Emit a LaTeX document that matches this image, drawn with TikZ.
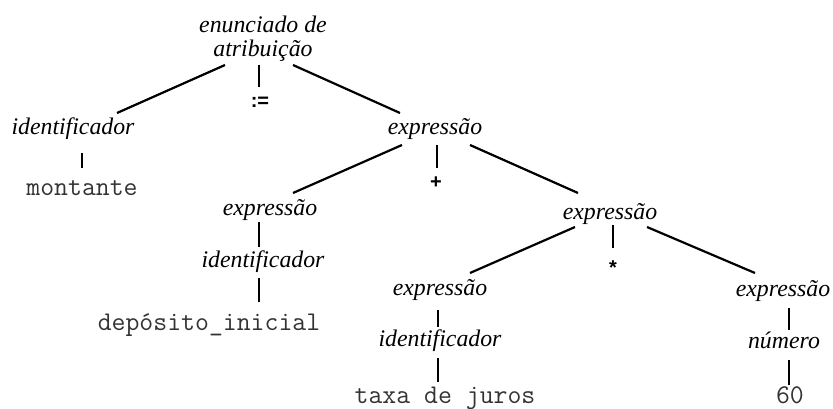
\documentclass[tikz,border=0pt]{standalone}
\usepackage{fontspec}
\setmainfont{Liberation Serif}
\newfontfamily\sansf{Liberation Sans}
\begin{document}
\begin{tikzpicture}[x=1pt,y=1pt,
  nt/.style={inner sep=0pt, anchor=base, font=\fontsize{23.8pt}{24pt}\selectfont\itshape},
  tm/.style={inner sep=0pt, anchor=base, text=black!80, font=\fontsize{27pt}{28pt}\selectfont\ttfamily},
  op/.style={inner sep=0pt, anchor=base, font=\fontsize{20pt}{24pt}\selectfont\sansf\bfseries},
  edge/.style={line width=2.2pt}]
\useasboundingbox (0,0) rectangle (833,-409);
% nodes
\node[nt, align=center] (root) at (263,-57) {enunciado de\\atribuição};
\node[nt] (idL) at (73,-135) {identificador};
\node[tm] (mont) at (82,-195) {montante};
\node[op] (assign) at (260,-108) {:=};
\node[nt] (eT) at (435,-135) {expressão};
\node[op] (plus) at (436,-189) {+};
\node[nt] (eML) at (270,-215) {expressão};
\node[nt] (idM) at (263,-267) {identificador};
\node[tm] (dep) at (209,-330) {depósito\_inicial};
\node[nt] (eMR) at (610,-219) {expressão};
\node[op] (star) at (613,-274) {*};
\node[nt] (eLo) at (440,-295) {expressão};
\node[nt] (idLo) at (440,-346) {identificador};
\node[tm] (taxa) at (445,-403) {taxa de juros};
\node[nt] (eR) at (783,-296) {expressão};
\node[nt] (num) at (784,-348) {número};
\node[tm] (sixty) at (790,-403) {60};
% connectors
\draw[edge] ([shift={(-38,-8)}]root.base) -- ([shift={(44,22)}]idL.base);
\draw[edge] ([shift={(-4,-8)}]root.base) -- ([shift={(-1,21)}]assign.base);
\draw[edge] ([shift={(30,-8)}]root.base) -- ([shift={(-35,22)}]eT.base);
\draw[edge] ([shift={(9,-18)}]idL.base) -- ([shift={(0,27)}]mont.base);
\draw[edge] ([shift={(-33,-10)}]eT.base) -- ([shift={(23,22)}]eML.base);
\draw[edge] ([shift={(2,-10)}]eT.base) -- ([shift={(1,21)}]plus.base);
\draw[edge] ([shift={(35,-10)}]eT.base) -- ([shift={(-32,26)}]eMR.base);
\draw[edge] ([shift={(-11,-7)}]eML.base) -- ([shift={(-4,20)}]idM.base);
\draw[edge] ([shift={(-4,-11)}]idM.base) -- ([shift={(50,28)}]dep.base);
\draw[edge] ([shift={(-35,-8)}]eMR.base) -- ([shift={(30,22)}]eLo.base);
\draw[edge] ([shift={(3,-6)}]eMR.base) -- ([shift={(0,26)}]star.base);
\draw[edge] ([shift={(37,-8)}]eMR.base) -- ([shift={(-28,23)}]eR.base);
\draw[edge] ([shift={(-2,-15)}]eLo.base) -- ([shift={(-2,19)}]idLo.base);
\draw[edge] ([shift={(-2,-12)}]idLo.base) -- ([shift={(-7,21)}]taxa.base);
\draw[edge] ([shift={(6,-12)}]eR.base) -- ([shift={(5,18)}]num.base);
\draw[edge] ([shift={(5,-12)}]num.base) -- ([shift={(-1,18)}]sixty.base);
\end{tikzpicture}
\end{document}
